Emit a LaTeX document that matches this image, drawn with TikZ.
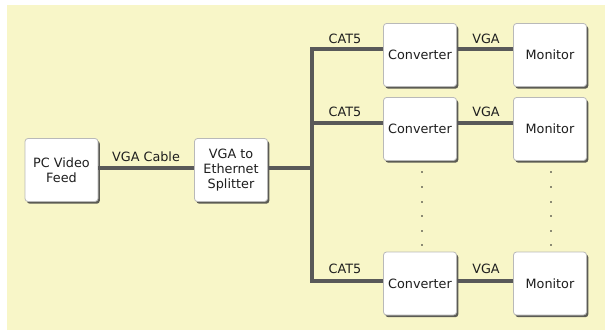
\documentclass[tikz,border=0pt]{standalone}
\usepackage{fontspec}
\setmainfont{DejaVu Sans}
\usetikzlibrary{shadows}
\definecolor{bgc}{HTML}{F8F6C8}
\definecolor{wirec}{HTML}{595959}
\definecolor{txtc}{HTML}{1E1E1E}
\tikzset{
  box/.style={draw=gray!55, line width=0.8pt, fill=white, rounded corners=3pt,
    minimum width=73pt, minimum height=63pt, align=center, font=\fontsize{12.8}{15}\selectfont,
    text=txtc, inner sep=1pt,
    drop shadow={shadow xshift=1.8pt, shadow yshift=-2.2pt, fill=black!75, opacity=0.85}},
  wire/.style={draw=wirec, line width=4.5pt},
  lbl/.style={font=\fontsize{12.8}{15}\selectfont, text=txtc, inner sep=0pt},
  dot/.style={fill=txtc}
}
\begin{document}
\begin{tikzpicture}[x=1pt,y=-1pt]
\useasboundingbox (0,0) rectangle (605,333);
\fill[bgc] (7,5) rectangle (605,330);

\node[box] (pc) at (61.5,170) {PC Video\\Feed};
\node[box] (sp) at (231,170) {VGA to\\Ethernet\\Splitter};

\node[box] (c1) at (420,55) {Converter};
\node[box] (c2) at (420,129) {Converter};
\node[box] (c3) at (420,283.5) {Converter};
\node[box] (m1) at (550,55) {Monitor};
\node[box] (m2) at (550,129) {Monitor};
\node[box] (m3) at (550,283.5) {Monitor};

\coordinate (t) at (312,168);
\coordinate (j1) at (312,49);
\coordinate (j2) at (312,123);
\coordinate (j3) at (312,281);

\draw[wire] ([yshift=2pt]pc.east) -- ([yshift=2pt]sp.west);
\draw[wire] ([yshift=2pt]sp.east) -- (t);
\draw[wire] ([yshift=6pt]c1.west) -- (j1) -- (j3) -- ([yshift=2.5pt]c3.west);
\draw[wire] (j2) -- ([yshift=6pt]c2.west);
\draw[wire] ([yshift=6pt]c1.east) -- ([yshift=6pt]m1.west);
\draw[wire] ([yshift=6pt]c2.east) -- ([yshift=6pt]m2.west);
\draw[wire] ([yshift=2.5pt]c3.east) -- ([yshift=2.5pt]m3.west);

\node[lbl] (l0) at (146,157) {VGA Cable};
\node[lbl] (l1) at (345,39) {CAT5};
\node[lbl] (l2) at (345,112) {CAT5};
\node[lbl] (l3) at (345,269) {CAT5};
\node[lbl] (v1) at (486,39) {VGA};
\node[lbl] (v2) at (486,112) {VGA};
\node[lbl] (v3) at (486,269) {VGA};

\foreach \y in {172,187,202,216,231,245} {
  \fill[dot] (422,\y) circle (0.8);
  \fill[dot] (551,\y) circle (0.8);
}
\end{tikzpicture}
\end{document}
